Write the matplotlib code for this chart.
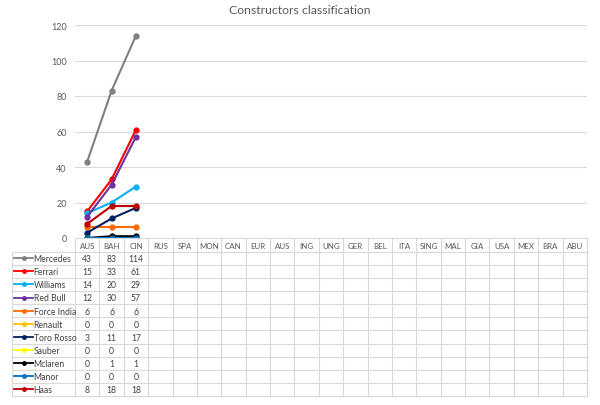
import matplotlib.pyplot as plt
from matplotlib.lines import Line2D

plt.rcParams['font.family'] = ['Lato', 'DejaVu Sans']

races = ['AUS', 'BAH', 'CIN', 'RUS', 'SPA', 'MON', 'CAN', 'EUR', 'AUS', 'ING', 'UNG',
         'GER', 'BEL', 'ITA', 'SING', 'MAL', 'GIA', 'USA', 'MEX', 'BRA', 'ABU']

teams = ['Mercedes', 'Ferrari', 'Williams', 'Red Bull', 'Force India', 'Renault',
         'Toro Rosso', 'Sauber', 'Mclaren', 'Manor', 'Haas']

mercedes = [43, 83, 114]
ferrari = [15, 33, 61]
williams = [14, 20, 29]
red_bull = [12, 30, 57]
force_india = [6, 6, 6]
renault = [0, 0, 0]
toro_rosso = [3, 11, 17]
sauber = [0, 0, 0]
mclaren = [0, 1, 1]
manor = [0, 0, 0]
haas = [8, 18, 18]

points = [mercedes, ferrari, williams, red_bull, force_india, renault,
          toro_rosso, sauber, mclaren, manor, haas]
colors = ['#7f7f7f', '#ff0000', '#00b0f0', '#7030a0', '#ff6a00', '#ffc000',
          '#002060', '#ffff00', '#000000', '#0070c0', '#c00000']

W, H = 600, 406
fig = plt.figure(figsize=(6, 4.06), dpi=100)

# chart area in pixel coords
left, right = 75, 587
top, bottom = 26, 239
ax = fig.add_axes([left / W, 1 - bottom / H, (right - left) / W, (bottom - top) / H])
for i, (vals, c) in enumerate(zip(points, colors)):
    ax.plot(range(len(vals)), vals, color=c, lw=1.5, marker='o', ms=3.5)
ax.set_xlim(-0.5, len(races) - 0.5)
ax.set_ylim(0, 120)
ax.set_yticks(range(0, 121, 20))
ax.set_xticks([])
ax.grid(axis='y', color='#d9d9d9', lw=0.8)
ax.set_axisbelow(True)
for s in ['top', 'right', 'left']:
    ax.spines[s].set_visible(False)
ax.spines['bottom'].set_color('#d9d9d9')
ax.tick_params(axis='y', length=0, labelsize=6.5, labelcolor='#595959', pad=6)
fig.text(0.5, 1 - 10 / H, 'Constructors classification', ha='center', va='center',
         fontsize=8.8, color='#595959')

# data table below the chart, drawn in pixel units
tb_left, tb_bottom = 12, 397
hdr_bottom = 252.7
row_h = (tb_bottom - hdr_bottom) / len(teams)
tax = fig.add_axes([tb_left / W, 1 - tb_bottom / H, (right - tb_left) / W, (tb_bottom - bottom) / H])
tax.set_xlim(tb_left, right)
tax.set_ylim(tb_bottom, bottom)
tax.axis('off')
col_w = (right - left) / len(races)
gc = '#d9d9d9'

for i in range(len(races) + 1):
    x = left + i * col_w
    tax.plot([x, x], [bottom, tb_bottom], color=gc, lw=0.8, clip_on=False)
tax.plot([tb_left, tb_left], [hdr_bottom, tb_bottom], color=gc, lw=0.8, clip_on=False)
for k in range(len(teams) + 1):
    y = hdr_bottom + k * row_h
    tax.plot([tb_left, right], [y, y], color=gc, lw=0.8, clip_on=False)

for i, r in enumerate(races):
    tax.text(left + (i + 0.5) * col_w, (bottom + hdr_bottom) / 2 + 0.5, r, ha='center', va='center',
             fontsize=5.7, color='#595959')

for k, (team, vals, c) in enumerate(zip(teams, points, colors)):
    yc = hdr_bottom + (k + 0.5) * row_h
    tax.add_line(Line2D([14, 33], [yc, yc], color=c, lw=1.3))
    tax.plot([23.5], [yc], marker='o', ms=2.5, color=c)
    tax.text(33.5, yc + 0.3, team, ha='left', va='center', fontsize=6.2, color='#404040')
    for i, v in enumerate(vals):
        tax.text(left + (i + 0.5) * col_w, yc + 0.3, str(v), ha='center', va='center',
                 fontsize=6.2, color='#404040')

fig.savefig('out.png', dpi=100)
